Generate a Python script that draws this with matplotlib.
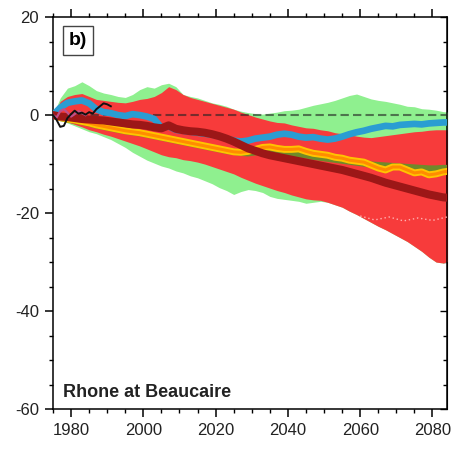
import numpy as np
import matplotlib
matplotlib.use("Agg")
import matplotlib.pyplot as plt
from matplotlib.ticker import MultipleLocator

plt.rcParams["font.family"] = ["Liberation Sans", "DejaVu Sans"]
plt.rcParams["axes.unicode_minus"] = False

# common 2-year grid for the ensemble bands and means
years = np.arange(1975, 2086, 2)

green_hi = [0, 3.5, 5.5, 6.0, 6.8, 6.0, 5.0, 4.5, 4.2, 3.8, 3.6, 4.2, 5.2, 5.8, 5.5, 6.2,
            6.5, 5.8, 4.2, 3.8, 3.5, 3.0, 2.5, 2.2, 1.8, 1.2, 0.8, 0.5, 0.3, 0.2, 0.4, 0.6,
            0.9, 1.0, 1.2, 1.6, 2.0, 2.3, 2.6, 3.0, 3.5, 4.0, 4.3, 3.8, 3.3, 3.0, 2.8, 2.5,
            2.2, 1.8, 1.7, 1.3, 1.2, 1.0, 0.7, 0.6]
green_lo = [0, -1.0, -1.6, -2.2, -2.8, -3.4, -3.8, -4.4, -5.0, -5.8, -6.6, -7.6, -8.4, -9.2,
            -9.8, -10.4, -10.8, -11.4, -11.8, -12.4, -12.8, -13.4, -14.0, -14.8, -15.4, -16.2,
            -15.6, -15.2, -15.4, -15.8, -16.6, -17.0, -17.2, -17.4, -17.6, -18.0, -17.8, -17.6,
            -17.8, -18.3, -18.8, -19.6, -20.3, -21.1, -21.9, -22.7, -23.4, -24.2, -25.0, -25.8,
            -26.8, -27.8, -29.0, -30.0, -30.2, -29.6]
red_hi = [0, 2.8, 3.8, 4.2, 4.4, 3.8, 3.2, 3.0, 2.8, 2.6, 2.5, 2.8, 3.2, 3.4, 3.8, 4.6,
          5.8, 5.2, 4.2, 3.6, 3.2, 2.8, 2.4, 2.0, 1.6, 1.2, 0.6, 0.1, -0.4, -0.8, -1.2, -1.5,
          -1.6, -2.0, -2.3, -2.6, -2.7, -3.0, -3.2, -3.6, -3.8, -4.0, -4.3, -4.5, -4.6, -4.4,
          -4.2, -4.0, -3.8, -3.6, -3.4, -3.3, -3.1, -3.0, -3.0, -3.0]
red_lo = [0, -0.8, -1.4, -1.9, -2.4, -3.0, -3.4, -3.9, -4.3, -4.8, -5.3, -5.8, -6.3, -6.9,
          -7.5, -8.1, -8.5, -8.7, -9.1, -9.3, -9.6, -10.0, -10.5, -11.0, -11.5, -12.0, -12.7,
          -13.3, -13.9, -14.4, -14.9, -15.4, -15.8, -16.3, -16.7, -17.1, -17.3, -17.4, -17.8,
          -18.3, -18.8, -19.6, -20.3, -21.1, -21.9, -22.7, -23.4, -24.2, -25.0, -25.8, -26.8,
          -27.8, -29.0, -30.0, -30.2, -29.6]

blue = [0, 1.5, 2.5, 2.8, 3.0, 2.4, 1.2, 0.6, 0.4, 0.0, -0.2, 0.2, 0.0, -0.3, -0.8, -2.6,
        -2.3, -3.0, -3.2, -3.4, -3.6, -3.8, -4.0, -4.3, -4.8, -5.2, -5.4, -5.2, -4.8, -4.6,
        -4.4, -4.0, -3.8, -4.0, -4.4, -4.6, -4.5, -4.8, -5.0, -4.8, -4.4, -3.9, -3.5, -3.2,
        -2.8, -2.5, -2.2, -2.3, -2.0, -1.9, -1.8, -1.9, -1.7, -1.6, -1.5, -1.5]
olive = [0, -0.6, -0.9, -1.1, -1.4, -1.7, -2.1, -2.4, -2.7, -3.0, -3.3, -3.5, -3.7, -4.0,
         -4.3, -4.6, -4.9, -5.2, -5.5, -5.8, -6.1, -6.4, -6.7, -7.0, -7.3, -7.5, -7.7, -7.8,
         -7.6, -7.4, -7.4, -7.5, -7.6, -7.8, -8.0, -8.2, -8.5, -8.7, -8.9, -9.1, -9.3, -9.5,
         -9.7, -9.9, -10.1, -10.2, -10.3, -10.4, -10.5, -10.6, -10.7, -10.8, -10.9, -10.9,
         -10.8, -10.8]
orange = [0, -0.5, -0.8, -1.0, -1.3, -1.6, -2.0, -2.3, -2.6, -2.9, -3.2, -3.4, -3.6, -3.9,
          -4.2, -4.5, -4.8, -5.1, -5.4, -5.7, -6.0, -6.3, -6.6, -6.9, -7.2, -7.5, -7.6, -7.4,
          -7.0, -6.6, -6.5, -6.8, -7.0, -7.0, -6.9, -7.4, -7.8, -8.0, -8.2, -8.6, -8.8, -9.2,
          -9.4, -9.6, -10.2, -10.8, -11.2, -10.6, -10.6, -11.2, -11.8, -11.6, -12.2, -12.0,
          -11.6, -11.4]
darkred = [0, -0.3, -0.4, -0.6, -0.8, -0.9, -1.0, -1.1, -1.3, -1.5, -1.7, -1.9, -2.0, -2.2,
           -2.5, -2.7, -2.1, -2.8, -3.1, -3.3, -3.4, -3.6, -3.9, -4.3, -4.8, -5.4, -6.1, -6.8,
           -7.3, -7.8, -8.2, -8.5, -8.8, -9.1, -9.4, -9.7, -10.0, -10.3, -10.6, -10.9, -11.2,
           -11.6, -12.0, -12.4, -12.8, -13.3, -13.8, -14.2, -14.6, -15.0, -15.4, -15.8, -16.2,
           -16.5, -16.8, -16.9]

# faint dotted member inside the red band
dot_years = [2060, 2064, 2068, 2072, 2076, 2080, 2084]
dot_vals = [-20.6, -21.4, -20.8, -21.6, -21.0, -21.5, -20.8]

# observed series and the short pink run
obs_years = np.arange(1975, 1992)
obs_vals = [0, -1.0, -2.4, -2.2, -0.6, 0.2, 0.9, 0.3, 0.5, 0.1, 0.6, 0.3, 1.2, 1.8, 2.4, 2.2, 1.8]
pink_years = np.arange(1975, 1985)
pink_vals = [0, -0.5, 0.8, 1.2, 0.5, -0.3, 0.2, 0.8, 0.4, 0.0]

fig = plt.figure(figsize=(4.51, 4.5), dpi=100)
ax = fig.add_axes([0.1175, 0.091, 0.8735, 0.871])

ax.fill_between(years, green_lo, green_hi, color="#8ff08f", lw=0, zorder=1)
ax.fill_between(years, red_lo, red_hi, color="#f73b3b", lw=0, zorder=2)
ax.plot(dot_years, dot_vals, color="#ffb3b3", lw=1, ls=(0, (1, 2)), zorder=3)
ax.axhline(0, color="#222222", lw=1.5, ls=(0, (4, 2)), alpha=0.6, zorder=3)

ax.plot(years, blue, color="#2a9dd2", lw=4.8, zorder=4)
ax.plot(years, olive, color="#6f8a2a", lw=4.5, zorder=5)
ax.plot(years, orange, color="#ffc400", lw=5, zorder=6)
ax.plot(years, orange, color="#ff8c00", lw=2.2, zorder=6)
ax.plot(years, darkred, color="#9c1717", lw=5.8, zorder=7)
ax.plot(pink_years, pink_vals, color="#c0508a", lw=1.6, zorder=8)
ax.plot(obs_years, obs_vals, color="#111111", lw=1.4, zorder=9)

ax.set_xlim(1975, 2084)
ax.set_ylim(-60, 20)
ax.xaxis.set_major_locator(MultipleLocator(20))
ax.xaxis.set_minor_locator(MultipleLocator(5))
ax.yaxis.set_major_locator(MultipleLocator(20))
ax.yaxis.set_minor_locator(MultipleLocator(5))
ax.tick_params(axis="x", which="both", direction="out", top=True, labeltop=False)
ax.tick_params(axis="y", which="both", direction="out", right=False)
ax.tick_params(which="major", length=6, width=1.1, labelsize=12, labelcolor="#222222", pad=4)
ax.tick_params(which="minor", length=3, width=1.0)

rax = ax.secondary_yaxis("right")
rax.yaxis.set_major_locator(MultipleLocator(20))
rax.yaxis.set_minor_locator(MultipleLocator(5))
rax.tick_params(which="both", direction="in", labelright=False)
rax.tick_params(which="major", length=5, width=1.0)
rax.tick_params(which="minor", length=3, width=1.0)

for s in ax.spines.values():
    s.set_linewidth(1.1)

ax.text(0.063, 0.941, "b)", transform=ax.transAxes, fontsize=14, fontweight="bold",
        ha="center", va="center", zorder=10,
        bbox=dict(boxstyle="square,pad=0.3", fc="white", ec="#444444", lw=1))
ax.text(0.025, 0.043, "Rhone at Beaucaire", transform=ax.transAxes, fontsize=13,
        fontweight="bold", color="#222222", ha="left", va="center", zorder=10)

fig.savefig("out.png", dpi=100)
